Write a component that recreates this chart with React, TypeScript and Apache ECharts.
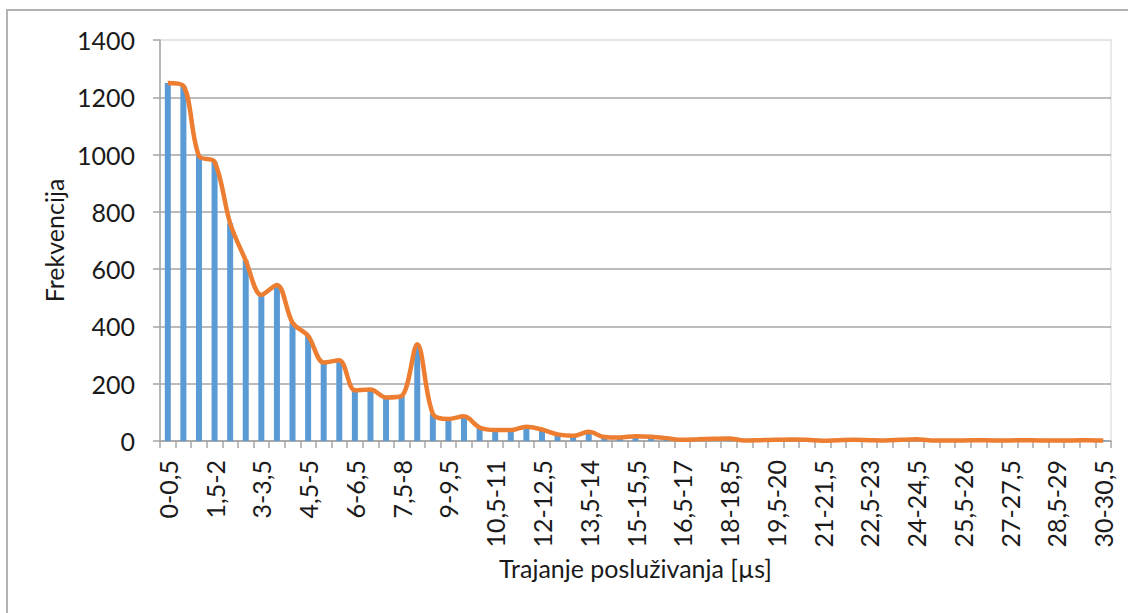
import React, { useEffect, useRef } from "react";
import * as echarts from "echarts";

const categories = [
  "0-0,5","0,5-1","1-1,5","1,5-2","2-2,5","2,5-3","3-3,5","3,5-4","4-4,5","4,5-5",
  "5-5,5","5,5-6","6-6,5","6,5-7","7-7,5","7,5-8","8-8,5","8,5-9","9-9,5","9,5-10",
  "10-10,5","10,5-11","11-11,5","11,5-12","12-12,5","12,5-13","13-13,5","13,5-14","14-14,5","14,5-15",
  "15-15,5","15,5-16","16-16,5","16,5-17","17-17,5","17,5-18","18-18,5","18,5-19","19-19,5","19,5-20",
  "20-20,5","20,5-21","21-21,5","21,5-22","22-22,5","22,5-23","23-23,5","23,5-24","24-24,5","24,5-25",
  "25-25,5","25,5-26","26-26,5","26,5-27","27-27,5","27,5-28","28-28,5","28,5-29","29-29,5","29,5-30",
  "30-30,5",
];

const frequencies = [
  1250, 1240, 995, 975, 760, 630, 510, 545, 413, 367,
  274, 282, 177, 180, 152, 157, 338, 95, 77, 86,
  47, 38, 38, 50, 40, 23, 18, 32, 14, 12,
  17, 15, 10, 4, 6, 8, 9, 2, 3, 4,
  5, 4, 1, 3, 4, 3, 2, 4, 6, 2,
  2, 2, 3, 2, 2, 3, 2, 2, 2, 3,
  2,
];

const yTicks = { min: 0, max: 1400, interval: 200 };

const FONT = "Lato";
const FS = 25;

export default function App() {
  const ref = useRef<HTMLDivElement>(null);
  useEffect(() => {
    if (!ref.current) return;
    const chart = echarts.init(ref.current, undefined, { renderer: "svg" });
    const grid = "#A6A6A6";
    chart.setOption({
      animation: false,
      backgroundColor: "#ffffff",
      textStyle: { fontFamily: FONT },
      graphic: [
        {
          type: "rect",
          shape: { x: 7, y: 10, width: 1200, height: 700 },
          style: { fill: "none", stroke: "#B3B3B3", lineWidth: 2 },
          silent: true,
        },
      ],
      grid: {
        left: 160,
        top: 40,
        right: 17,
        bottom: 172,
        show: true,
        borderColor: "#E3E3E3",
        borderWidth: 1.5,
        backgroundColor: "transparent",
      },
      xAxis: {
        type: "category",
        data: categories,
        boundaryGap: true,
        name: "Trajanje posluživanja [µs]",
        nameLocation: "middle",
        nameGap: 112,
        nameTextStyle: { fontFamily: FONT, fontSize: FS, color: "#1a1a1a" },
        axisLine: { show: true, lineStyle: { color: grid, width: 1.5 } },
        axisTick: {
          show: true,
          interval: 0,
          length: 7,
          alignWithLabel: false,
          lineStyle: { color: grid, width: 1.5 },
        },
        axisLabel: {
          interval: 2,
          rotate: 90,
          margin: 19,
          fontFamily: FONT,
          fontSize: FS,
          color: "#1a1a1a",
        },
        splitLine: { show: false },
      },
      yAxis: {
        type: "value",
        min: yTicks.min,
        max: yTicks.max,
        interval: yTicks.interval,
        name: "Frekvencija",
        nameLocation: "middle",
        nameGap: 84,
        nameRotate: 90,
        nameTextStyle: { fontFamily: FONT, fontSize: FS, color: "#1a1a1a" },
        axisLine: { show: true, lineStyle: { color: grid, width: 1.5 } },
        axisTick: { show: true, inside: false, length: 7, lineStyle: { color: grid, width: 1.5 } },
        axisLabel: {
          margin: 25,
          fontFamily: FONT,
          fontSize: FS,
          color: "#1a1a1a",
          formatter: (v: number) => String(v),
        },
        splitLine: {
          show: true,
          lineStyle: {
            color: [grid, grid, grid, grid, grid, grid, grid, "#E3E3E3"],
            width: 1.5,
          },
        },
      },
      series: [
        {
          type: "bar",
          data: frequencies,
          barWidth: 6,
          itemStyle: { color: "#5B9BD5" },
          silent: true,
        },
        {
          type: "line",
          data: frequencies,
          smooth: 0.33,
          showSymbol: false,
          symbol: "none",
          lineStyle: { color: "#ED7D31", width: 4.5 },
          silent: true,
          z: 3,
        },
      ],
    });
    return () => chart.dispose();
  }, []);
  return (
    <div
      ref={ref}
      style={{ position: "absolute", left: 0, top: 0, width: 1128, height: 613 }}
    />
  );
}
